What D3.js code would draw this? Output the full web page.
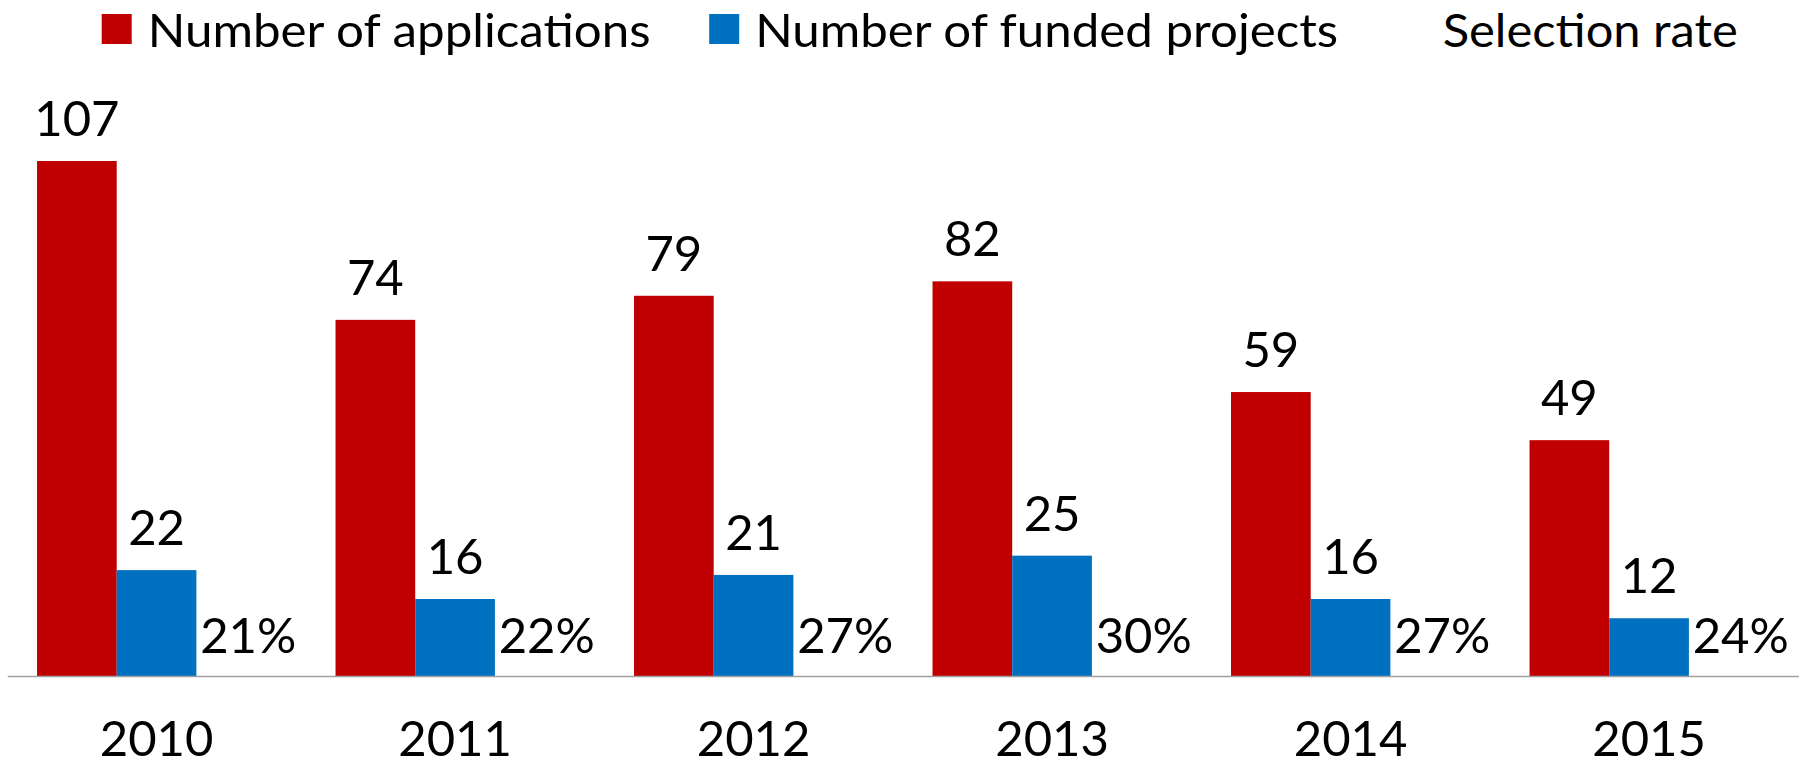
<!DOCTYPE html>
<html>
<head>
<meta charset="utf-8">
<script src="https://cdn.jsdelivr.net/npm/d3@7"></script>
<style>
  html, body { margin: 0; padding: 0; background: #fff; }
  svg text { font-family: Lato, "Open Sans", sans-serif; fill: #000; }
</style>
</head>
<body>
<div id="container"></div>
<script>
// data
let years = ["2010", "2011", "2012", "2013", "2014", "2015"];
let applications = [107, 74, 79, 82, 59, 49];
let funded = [22, 16, 21, 25, 16, 12];
let selectionRate = [0.21, 0.22, 0.27, 0.30, 0.27, 0.24];
let seriesNames = ["Number of applications", "Number of funded projects", "Selection rate"];
let seriesColors = ["#C00000", "#0070C0", "none"];

let w = 1808;
let h = 766;
let fontSize = 49;

let viz = d3.select("#container")
  .append("svg")
  .attr("width", w)
  .attr("height", h)
  .style("display", "block");

let xScale = d3.scaleBand().domain(years).range([7.3, 1798.3]).padding(0);
let subScale = d3.scaleBand().domain([0, 1, 2]).range([0, xScale.bandwidth()]).paddingInner(0).paddingOuter(0.373);
let yScale = d3.scaleLinear().domain([0, 120]).range([676, 676 - 120 * 4.813]);

let rows = years.map((y, i) => ({ year: y, vals: [applications[i], funded[i], selectionRate[i]] }));

let groups = viz.selectAll(".yearGroup").data(rows).enter()
  .append("g")
  .attr("class", "yearGroup")
  .attr("transform", d => "translate(" + xScale(d.year) + ",0)");

// bars for applications and funded
groups.selectAll(".bar")
  .data(d => d.vals.slice(0, 2).map((v, k) => ({ v: v, k: k })))
  .enter()
  .append("rect")
  .attr("class", "bar")
  .attr("x", d => subScale(d.k))
  .attr("y", d => yScale(d.v))
  .attr("width", subScale.bandwidth())
  .attr("height", d => yScale(0) - yScale(d.v))
  .attr("fill", d => seriesColors[d.k]);

// value labels
groups.selectAll(".valLabel")
  .data(d => d.vals.slice(0, 2).map((v, k) => ({ v: v, k: k })))
  .enter()
  .append("text")
  .attr("class", "valLabel")
  .attr("x", d => subScale(d.k) + subScale.bandwidth() / 2)
  .attr("y", d => yScale(d.v) - 25)
  .attr("text-anchor", "middle")
  .attr("font-size", fontSize)
  .text(d => d.v);

// selection rate labels (invisible series)
groups.append("text")
  .attr("class", "rateLabel")
  .attr("x", subScale(2) + subScale.bandwidth() / 2 + 12)
  .attr("y", d => yScale(d.vals[2]) - 22)
  .attr("text-anchor", "middle")
  .attr("font-size", fontSize)
  .text(d => Math.round(d.vals[2] * 100) + "%");

// x axis
let xAxis = d3.axisBottom(xScale).tickSize(0).tickPadding(0);
let xAxisGroup = viz.append("g")
  .attr("class", "xAxis")
  .attr("transform", "translate(0," + yScale(0) + ")")
  .call(xAxis);
xAxisGroup.select(".domain").attr("stroke", "#a0a0a0").attr("stroke-width", 1.5);
xAxisGroup.selectAll(".tick text")
  .attr("y", 80)
  .attr("dy", 0)
  .attr("font-size", fontSize)
  .attr("font-family", "Lato, sans-serif")
  .attr("fill", "#000");

// legend
let legendWidths = [503, 583, 295];
let legend = viz.append("g").attr("class", "legend");
let lx = 101.7;
seriesNames.forEach((name, i) => {
  legend.append("rect")
    .attr("x", lx)
    .attr("y", 14)
    .attr("width", 30)
    .attr("height", 30)
    .attr("fill", seriesColors[i]);
  legend.append("text")
    .attr("x", lx + 46)
    .attr("y", 47)
    .attr("font-size", 47)
    .attr("textLength", legendWidths[i])
    .attr("lengthAdjust", "spacingAndGlyphs")
    .text(name);
  lx += 46 + legendWidths[i] + 58.5;
});
</script>
</body>
</html>
